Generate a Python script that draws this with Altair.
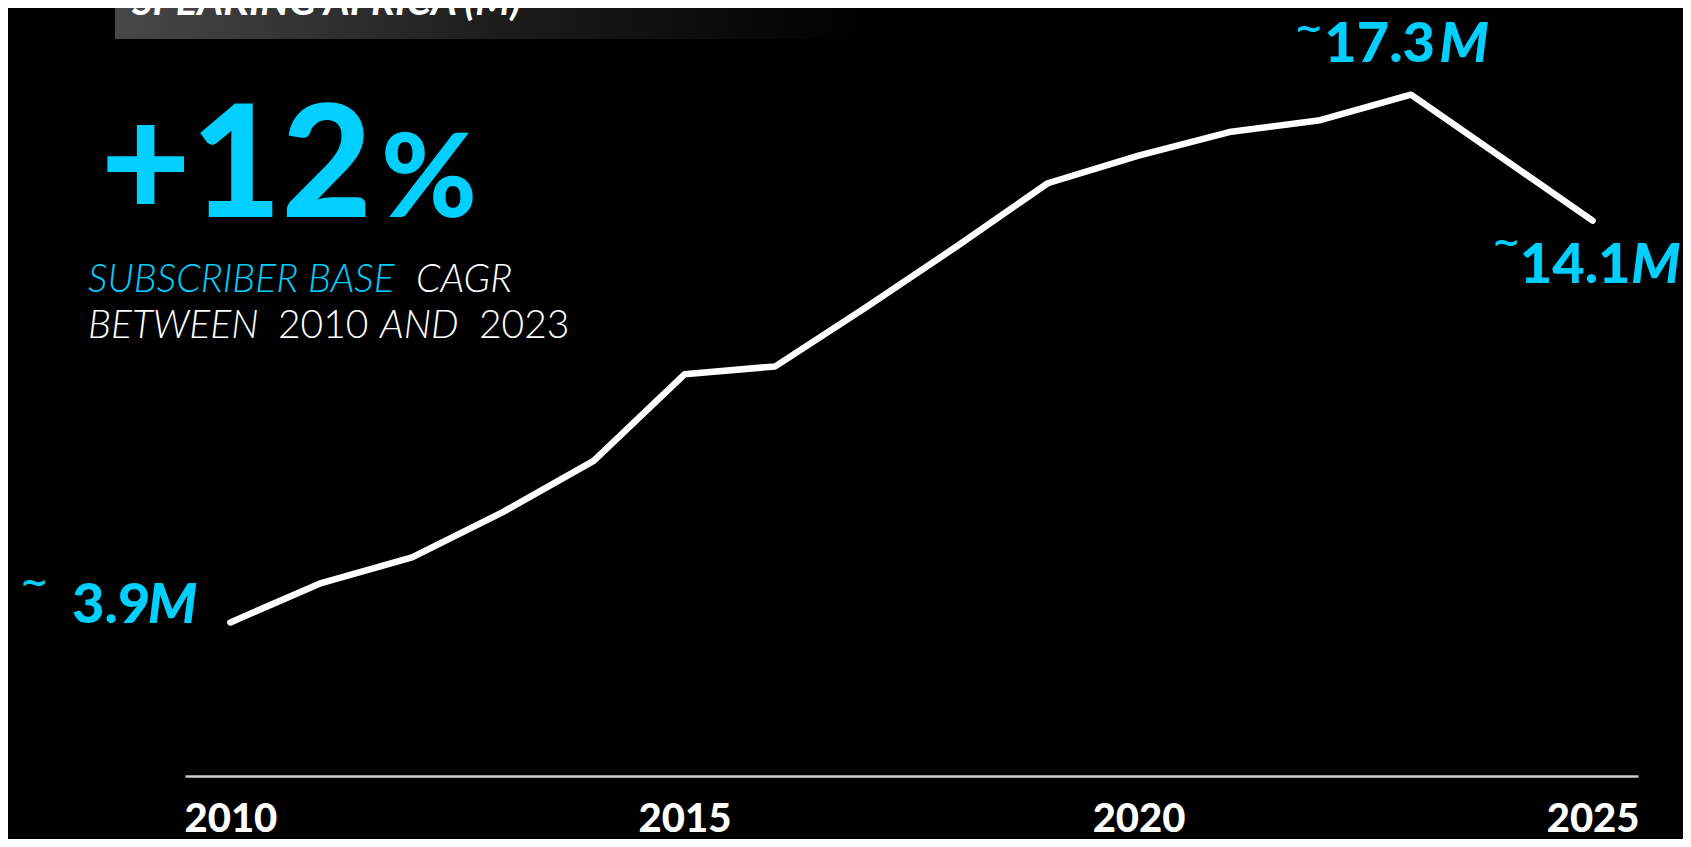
import altair as alt
import pandas as pd

# ---- data ----
years = list(range(2010, 2026))
subscribers = [3.9, 4.9, 5.55, 6.7, 8.0, 10.2, 10.4, 11.9, 13.45, 15.05, 15.75, 16.35, 16.65, 17.3, 15.7, 14.1]
label_years = [2010, 2023, 2025]
label_numbers = ["3.9", "17.3", "14.1"]
tick_years = [2010, 2015, 2020, 2025]

title_text = "SPEAKING AFRICA (M)"
cagr_value = "+12"
cagr_unit = "%"
sub_line1 = ["SUBSCRIBER BASE", "CAGR"]
sub_line2 = ["BETWEEN", "2010", "AND", "2023"]

CYAN = "#00CFFF"
FONT = "Lato"

df = pd.DataFrame({"year": years, "subs": subscribers})
lab = pd.DataFrame({
    "year": label_years,
    "subs": [subscribers[years.index(y)] for y in label_years],
    "num": label_numbers,
    "unit": ["M"] * len(label_years),
    "tilde": ["~"] * len(label_years),
})

xs = alt.Scale(domain=[2009.5, 2025.5], nice=False, zero=False)
ys = alt.Scale(domain=[0, 19.5], nice=False)

x_enc = alt.X("year:Q", scale=xs, axis=alt.Axis(
    values=tick_years, format="d", title=None, ticks=False, tickSize=0, grid=False,
    domainColor="#cfcfcf", domainWidth=2.5, labelColor="white", labelFont=FONT,
    labelFontSize=40, labelFontWeight=900, labelPadding=55, labelBaseline="alphabetic",
    labelFlush=False, labelOverlap=False))
y_enc = alt.Y("subs:Q", scale=ys, axis=None)

line = alt.Chart(df).mark_line(
    color="white", strokeWidth=6.5, strokeCap="round", strokeJoin="round"
).encode(x=x_enc, y=y_enc)


def txt(s, x, y, size, color="white", weight="normal", style="normal", align="left"):
    return alt.Chart(pd.DataFrame({"t": [s]})).mark_text(
        font=FONT, fontSize=size, color=color, fontWeight=weight, fontStyle=style,
        align=align, baseline="alphabetic"
    ).encode(x=alt.value(x), y=alt.value(y), text="t:N")


# gradient header box
box = alt.Chart(pd.DataFrame({"t": [0]})).mark_rect(
    fill=alt.LinearGradient(
        gradient="linear", x1=0, x2=1, y1=0, y2=0,
        stops=[alt.GradientStop(color="#484848", offset=0),
               alt.GradientStop(color="#1d1d1d", offset=0.5),
               alt.GradientStop(color="#050505", offset=0.9),
               alt.GradientStop(color="#000000", offset=1)])
).encode(x=alt.value(-70), x2=alt.value(685), y=alt.value(-10), y2=alt.value(31))

title = txt(title_text, -53, 7, 40, weight="bold", style="italic")

big = txt(cagr_value, 187, 209, 156, color=CYAN, weight=900, align="right")
pct = txt(cagr_unit, 196, 209, 116, color=CYAN, weight=900)

s1a = txt(sub_line1[0], -97, 284, 39, color=CYAN, weight=300, style="italic")
s1b = txt(sub_line1[1], 231, 284, 39, weight=300, style="italic")
s2a = txt(sub_line2[0], -97, 330, 39, weight=300, style="italic")
s2b = txt(sub_line2[1], 93, 330, 39, weight=300)
s2c = txt(sub_line2[2], 195, 330, 39, weight=300, style="italic")
s2d = txt(sub_line2[3], 294, 330, 39, weight=300)

# value label offsets (style, not data)
offsets = {
    2010: {"unit": (-33, 1), "num": (-80, 1), "tilde": (-182, -28)},
    2023: {"unit": (78, -33), "num": (24, -33), "tilde": (-88, -55)},
    2025: {"unit": (88, 62), "num": (38, 62), "tilde": (-72, 33)},
}

label_layers = []
for yr, off in offsets.items():
    base = alt.Chart(lab).transform_filter(alt.datum.year == yr)
    label_layers.append(base.mark_text(
        font=FONT, fontSize=56, fontWeight=900, color=CYAN, align="right",
        baseline="alphabetic", dx=off["num"][0], dy=off["num"][1]
    ).encode(x=alt.X("year:Q", scale=xs), y=alt.Y("subs:Q", scale=ys), text="num:N"))
    label_layers.append(base.mark_text(
        font=FONT, fontSize=56, fontWeight=900, fontStyle="italic", color=CYAN, align="right",
        baseline="alphabetic", dx=off["unit"][0], dy=off["unit"][1]
    ).encode(x=alt.X("year:Q", scale=xs), y=alt.Y("subs:Q", scale=ys), text="unit:N"))
    label_layers.append(base.mark_text(
        font="DejaVu Sans", fontSize=34, fontWeight="bold", color=CYAN, align="right",
        baseline="alphabetic", dx=off["tilde"][0], dy=off["tilde"][1]
    ).encode(x=alt.X("year:Q", scale=xs), y=alt.Y("subs:Q", scale=ys), text="tilde:N"))

chart = alt.layer(
    box, title, big, pct, s1a, s1b, s2a, s2b, s2c, s2d, line, *label_layers
).properties(
    width=1453, height=768,
    autosize=alt.AutoSizeParams(type="none"),
    padding={"left": 177, "top": 0, "right": 45, "bottom": 63},
    background="#000000",
).configure_view(stroke=None)

chart.save("out.html", embed_options={"renderer": "svg", "actions": False})
